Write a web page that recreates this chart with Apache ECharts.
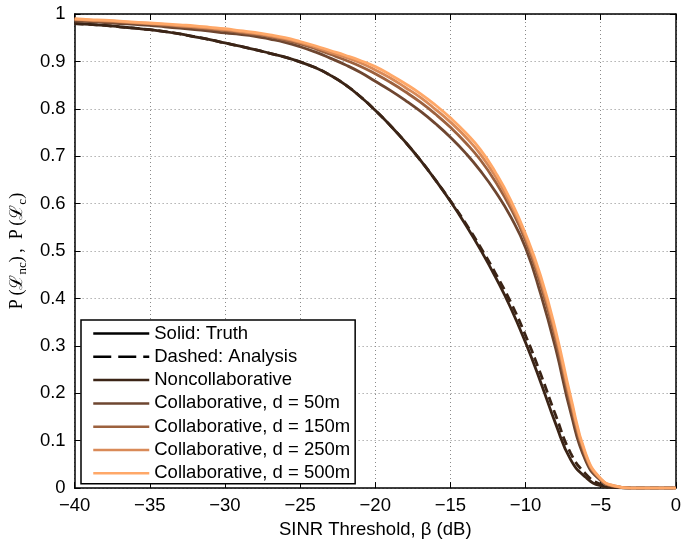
<!DOCTYPE html>
<html>
<head>
<meta charset="utf-8">
<script src="https://cdn.jsdelivr.net/npm/echarts@6/dist/echarts.min.js"></script>
<style>
html,body{margin:0;padding:0;background:#fff;}
#chart{width:684px;height:544px;}
</style>
</head>
<body>
<div id="chart"></div>
<script>
// SINR threshold samples (dB), every 1 dB
const xValues = [-40,-39,-38,-37,-36,-35,-34,-33,-32,-31,-30,-29,-28,-27,-26,-25,-24,-23,-22,-21,-20,-19,-18,-17,-16,-15,-14,-13,-12,-11,-10,-9,-8,-7,-6,-5,-4,-3,-2,-1,0];

const nonCollabTruth = [0.980,0.978,0.976,0.973,0.970,0.967,0.963,0.958,0.952,0.946,0.939,0.932,0.925,0.917,0.909,0.899,0.887,0.871,0.851,0.826,0.797,0.765,0.730,0.692,0.650,0.605,0.556,0.503,0.445,0.381,0.307,0.224,0.136,0.060,0.023,0.005,0.001,0,0,0,0];
const nonCollabAnalysis = [0.980,0.978,0.976,0.973,0.970,0.967,0.963,0.958,0.952,0.946,0.939,0.932,0.925,0.917,0.909,0.899,0.887,0.871,0.851,0.826,0.797,0.765,0.730,0.692,0.650,0.606,0.559,0.508,0.453,0.393,0.322,0.241,0.154,0.074,0.030,0.008,0.002,0,0,0,0];
const collab50 = [0.985,0.984,0.982,0.980,0.978,0.976,0.973,0.970,0.967,0.964,0.960,0.957,0.953,0.947,0.940,0.931,0.920,0.907,0.893,0.877,0.858,0.839,0.818,0.795,0.769,0.740,0.707,0.669,0.625,0.573,0.507,0.410,0.295,0.160,0.058,0.016,0.003,0,0,0,0];
const collab150 = [0.988,0.986,0.984,0.983,0.981,0.979,0.976,0.974,0.971,0.968,0.965,0.961,0.957,0.952,0.945,0.937,0.927,0.915,0.903,0.890,0.874,0.856,0.836,0.814,0.789,0.761,0.729,0.692,0.646,0.591,0.522,0.429,0.314,0.177,0.066,0.018,0.003,0,0,0,0];
const collab250 = [0.989,0.987,0.986,0.984,0.982,0.980,0.978,0.975,0.973,0.970,0.967,0.963,0.959,0.954,0.948,0.940,0.930,0.919,0.909,0.897,0.882,0.865,0.845,0.824,0.799,0.772,0.741,0.704,0.657,0.600,0.530,0.440,0.325,0.186,0.070,0.019,0.004,0,0,0,0];
const collab500 = [0.990,0.988,0.987,0.985,0.983,0.981,0.979,0.977,0.975,0.972,0.969,0.965,0.961,0.956,0.950,0.942,0.933,0.923,0.913,0.902,0.889,0.872,0.853,0.832,0.808,0.781,0.750,0.714,0.666,0.608,0.536,0.448,0.333,0.193,0.073,0.020,0.004,0,0,0,0];

const seriesNames = ['Noncollaborative','Collaborative, d = 50m','Collaborative, d = 150m','Collaborative, d = 250m','Collaborative, d = 500m'];
const styleNames = ['Solid: Truth','Dashed: Analysis'];
const xTicks = [-40,-35,-30,-25,-20,-15,-10,-5,0];
const yTicks = [0,0.1,0.2,0.3,0.4,0.5,0.6,0.7,0.8,0.9,1];

const colors = ['#3b2416','#6e4630','#9c613e','#d98a58','#ffa868'];

function pairs(vals){ return xValues.map((x,i)=>[x, vals[i]]); }

const font = '"Liberation Sans", Arial, Helvetica, sans-serif';
const chart = echarts.init(document.getElementById('chart'), null, {renderer:'canvas'});

const curveData = [collab50, collab150, collab250, collab500];
const SM = 0.5;

const series = [
  {name: styleNames[0], type:'line', data:[], symbol:'none', lineStyle:{color:'#000', width:2.5, type:'solid'}, itemStyle:{color:'#000'}},
  {name: styleNames[1], type:'line', data:[], symbol:'none', lineStyle:{color:'#000', width:2.5, type:[18,7]}, itemStyle:{color:'#000'}},
  {name: 'Noncollaborative (analysis)', type:'line', data: pairs(nonCollabAnalysis), symbol:'none', smooth:SM, lineStyle:{color:colors[0], width:2.8, type:[9,5]}, itemStyle:{color:colors[0]}, z:3},
  {name: seriesNames[0], type:'line', data: pairs(nonCollabTruth), symbol:'none', smooth:SM, lineStyle:{color:colors[0], width:2.8}, itemStyle:{color:colors[0]}, z:4}
];
curveData.forEach((d,i)=>{
  series.push({name: seriesNames[i+1], type:'line', data: pairs(d), symbol:'none', smooth:SM, lineStyle:{color:colors[i+1], width:2.8}, itemStyle:{color:colors[i+1]}, z:5+i});
});

const minus = v => (v < 0 ? '\u2212' + Math.abs(v) : String(v));
const FS = 18.5;

const option = {
  animation:false,
  backgroundColor:'#fff',
  grid:{left:72, right:7, top:14, bottom:51},
  legend:{
    orient:'vertical', left:81, top:320,
    data:[...styleNames, ...seriesNames],
    itemWidth:56, itemHeight:14, itemGap:4.3,
    padding:[4,5,1,11],
    borderColor:'#000', borderWidth:1.5, backgroundColor:'#fff',
    lineStyle:{width:2.5},
    itemStyle:{opacity:0},
    textStyle:{fontFamily:font, fontSize:FS, color:'#000'},
    selectedMode:false
  },
  xAxis:[
    {type:'value', min:-40, max:0, interval:5, position:'bottom',
     axisLine:{show:true, onZero:false, lineStyle:{color:'#000', width:1.5}},
     axisTick:{show:true, inside:true, length:6, lineStyle:{color:'#000', width:1}},
     axisLabel:{fontFamily:font, fontSize:FS, color:'#000', margin:8, formatter: v => minus(v)},
     splitLine:{show:true, lineStyle:{color:'#8a8a8a', width:1, type:[1,3]}},
     name:'SINR Threshold, \u03b2 (dB)', nameLocation:'middle', nameGap:29,
     nameTextStyle:{fontFamily:font, fontSize:FS, color:'#000'}},
    {type:'value', min:-40, max:0, interval:5, position:'top',
     axisLine:{show:true, onZero:false, lineStyle:{color:'#000', width:1.5}},
     axisTick:{show:true, inside:true, length:6, lineStyle:{color:'#000', width:1}},
     axisLabel:{show:false}, splitLine:{show:false}}
  ],
  yAxis:[
    {type:'value', min:0, max:1, interval:0.1, position:'left',
     axisLine:{show:true, onZero:false, lineStyle:{color:'#000', width:1.5}},
     axisTick:{show:true, inside:true, length:6, lineStyle:{color:'#000', width:1}},
     axisLabel:{fontFamily:font, fontSize:FS, color:'#000', margin:9, formatter: v => String(Math.round(v*10)/10)},
     splitLine:{show:true, lineStyle:{color:'#8a8a8a', width:1, type:[1,3]}},
     name:'{a|P\u2009(\u2112}{s|nc}{a|)\u2009,\u2002P\u2009(\u2112}{s|c}{a|)}',
     nameLocation:'middle', nameGap:40, nameRotate:90,
     nameTextStyle:{
       rich:{
         a:{fontFamily:'"Liberation Serif","DejaVu Serif",serif', fontSize:18, color:'#000', verticalAlign:'bottom', lineHeight:22},
         s:{fontFamily:'"Liberation Serif","DejaVu Serif",serif', fontSize:13, color:'#000', verticalAlign:'bottom', lineHeight:16, padding:[0,0,-3,0]}
       }
     }},
    {type:'value', min:0, max:1, interval:0.1, position:'right',
     axisLine:{show:true, onZero:false, lineStyle:{color:'#000', width:1.5}},
     axisTick:{show:true, inside:true, length:6, lineStyle:{color:'#000', width:1}},
     axisLabel:{show:false}, splitLine:{show:false}}
  ],
  series: series
};
chart.setOption(option);
</script>
</body>
</html>
